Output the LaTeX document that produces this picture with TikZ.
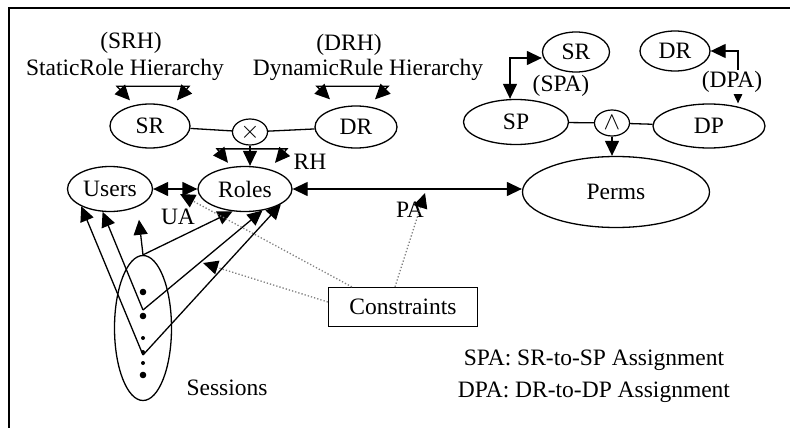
\documentclass[tikz,border=0pt]{standalone}
\usepackage{fontspec}
\setmainfont{Liberation Serif}
\usetikzlibrary{shapes.geometric,arrows.meta}
\begin{document}
\begin{tikzpicture}[
  x=1pt, y=-1pt,
  ent/.style={ellipse, draw, line width=1.3pt, inner sep=0pt},
  op/.style={ellipse, draw, line width=1.2pt, inner sep=0pt, minimum width=35pt, minimum height=26pt},
  lbl/.style={inner sep=0pt},
  link/.style={line width=1.3pt},
  arr/.style={-{Triangle[length=15pt,width=14pt]}, line width=1.3pt},
  dbl/.style={{Triangle[length=15pt,width=14pt]}-{Triangle[length=15pt,width=14pt]}, line width=1.3pt},
  cons/.style={dotted, draw=gray, line width=1.3pt, -{Triangle[length=15pt,width=14pt,black]}},
  font=\fontsize{23.5}{26}\selectfont
]
\useasboundingbox (0,0) rectangle (790,428);
\draw[line width=2pt] (9,428) -- (9,8) -- (790,8);

% hierarchy labels
\node[lbl] (srh) at (131,43) {(SRH)};
\node[lbl] (srhtext) at (125,70) {StaticRole Hierarchy};
\node[lbl] (drh) at (349,45) {(DRH)};
\node[lbl] (drhtext) at (368,70) {DynamicRule Hierarchy};

% role side
\node[ent, minimum width=80pt, minimum height=44pt] (srL) at (150,126) {SR};
\node[op] (times) at (250,132) {$\times$};
\node[ent, minimum width=82pt, minimum height=42pt] (drL) at (356,127) {DR};
\node[lbl] (rh) at (310,162) {RH};
\node[ent, minimum width=85pt, minimum height=45pt] (users) at (110,189) {Users};
\node[ent, minimum width=94pt, minimum height=45pt] (roles) at (245,189) {Roles};
\node[lbl] (ua) at (178,217) {UA};
\node[lbl] (pa) at (410,210) {PA};
\node[ent, minimum width=57pt, minimum height=145pt] (ses) at (143,328) {};
\node[lbl] (sessions) at (227,388) {Sessions};
\node[draw, line width=1.3pt, minimum width=149pt, minimum height=39pt] (constr) at (403,307) {Constraints};

% permission side
\node[ent, minimum width=67pt, minimum height=40pt] (srR) at (576,52) {SR};
\node[lbl] (spa) at (561,86) {(SPA)};
\node[ent, minimum width=105pt, minimum height=45pt] (sp) at (516,122) {SP};
\node[op] (wedge) at (612,123) {$\wedge$};
\node[ent, minimum width=112pt, minimum height=44pt] (dp) at (709,126) {DP};
\node[ent, minimum width=70pt, minimum height=40pt] (drR) at (675,51) {DR};
\node[ent, minimum width=187pt, minimum height=71pt] (perms) at (616,192) {Perms};

% legend
\node[lbl] (leg1) at (594,360) {SPA: SR-to-SP Assignment};
\node[lbl] (leg2) at (594,392) {DPA: DR-to-DP Assignment};

% hierarchies
\draw[dbl] ([shift={(-20,-3)}]srL.north) -- ++(-13,-14) -- ++(72,0) -- ++(-12,14);
\draw[dbl] ([shift={(-26,-6)}]drL.north) -- ++(-13,-13) -- ++(71,0) -- ++(-13,13);
\draw[dbl] ([shift={(-17,-3)}]roles.north) -- ++(-11,-14) -- ++(70,0) -- ++(-12,14);
\draw[link] (srL) -- (times);
\draw[link] (times) -- (drL);
\draw[arr] (times.south) -- (times.south |- roles.north);

% assignments
\draw[dbl] (users.east) -- (roles.west);
\draw[dbl] (roles.east) -- (roles.east -| perms.west);
\draw[link] (sp) -- (wedge);
\draw[link] (wedge) -- (dp);
\draw[arr] (wedge.south) -- (wedge.south |- perms.north);
\draw[dbl] ([xshift=-6pt]sp.north) |- ([yshift=-6pt]srR.west);
\draw[dbl] (drR.east) -| ([xshift=29pt]dp.north);
\node[lbl, fill=white, inner ysep=1pt] (dpa) at (732,82) {(DPA)};

% sessions
\coordinate (s1) at (143,310);
\coordinate (s2) at (143,355);
\foreach \y in {292,316,375} \fill (143,\y) circle (3.3pt);
\foreach \y in {338,352,363} \fill (143,\y) circle (2pt);
\draw[arr, shorten >=13pt] (ses.north) -- (users.-33);
\draw[arr] (ses.north) -- (roles.241);
\draw[arr] (s1) -- (users.252);
\draw[arr] (s1) -- (roles.-51);
\draw[arr] (s2) -- (users.211);
\draw[arr] (s2) -- (roles.-23);

% constraints
\coordinate (uapt) at (180,194);
\coordinate (sespt) at (203,263);
\coordinate (papt) at (425,193);
\draw[cons] ([xshift=24pt]constr.north west) -- (uapt);
\draw[cons] ([yshift=5pt]constr.west) -- (sespt);
\draw[cons] ([xshift=-8pt]constr.north) -- (papt);
\end{tikzpicture}
\end{document}
